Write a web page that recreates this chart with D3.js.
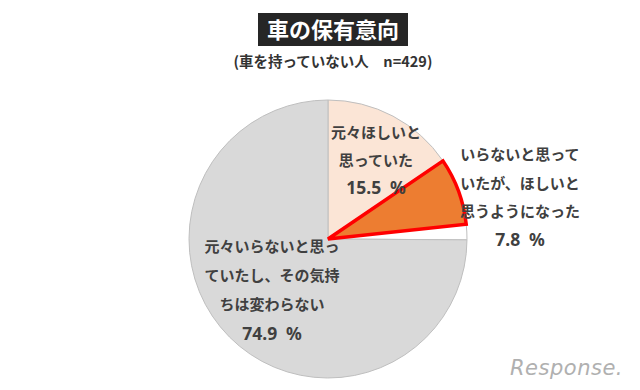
<!DOCTYPE html>
<html><head><meta charset="utf-8">
<script src="https://cdn.jsdelivr.net/npm/d3@7"></script>
<style>body{margin:0;background:#fff}svg{display:block}</style>
</head><body>
<script>
const title = "車の保有意向";
const subtitle = "(車を持っていない人\u3000n=429)";
const categories = ["元々ほしいと思っていた", "いらないと思っていたが、ほしいと思うようになった", "無回答", "元々いらないと思っていたし、その気持ちは変わらない"];
const values = [15.5, 7.8, 1.8, 74.9];
const labelLines = [
  ["元々ほしいと", "思っていた"],
  ["いらないと思って", "いたが、ほしいと", "思うようになった"],
  [],
  ["元々いらないと思っ", "ていたし、その気持", "ちは変わらない"]
];
const valueLabels = ["15.5\u2002%", "7.8\u2002%", "", "74.9\u2002%"];

const W = 640, H = 390;
const svg = d3.select("body").append("svg").attr("width", W).attr("height", H);
const font = "'Noto Sans CJK JP', 'Noto Sans', sans-serif";
const numFont = "'Noto Sans', 'Open Sans', sans-serif";

// title
svg.append("rect").attr("x", 258).attr("y", 13).attr("width", 150).attr("height", 33).attr("fill", "#262626");
svg.append("text").attr("x", 333).attr("y", 37.5).attr("text-anchor", "middle")
  .attr("font-family", font).attr("font-weight", "bold").attr("font-size", 22).attr("fill", "#fff").text(title);
svg.append("text").attr("x", 333).attr("y", 66.5).attr("text-anchor", "middle")
  .attr("font-family", font).attr("font-weight", "bold").attr("font-size", 14.5).attr("fill", "#333").text(subtitle);

// pie
const cx = 328, cy = 239, R = 139;
const fills = ["#FBE5D6", "#ED7D31", "#FFFFFF", "#D9D9D9"];
const pie = d3.pie().sort(null).value(d => d)(values);
const arc = d3.arc().innerRadius(0).outerRadius(R);
const g = svg.append("g").attr("transform", `translate(${cx},${cy})`);
const order = [0, 2, 3, 1];
order.forEach(i => {
  const hl = i === 1;
  g.append("path").attr("d", arc(pie[i])).attr("fill", fills[i])
    .attr("stroke", hl ? "#FF0000" : "#BFBFBF").attr("stroke-width", hl ? 3.5 : 1)
    .attr("stroke-linejoin", "miter");
});

// labels
const labelPos = [[376, 133], [520, 155], null, [272, 247]];
const spacing = [27.5, 28.3, 0, 28.9];
labelLines.forEach((lines, i) => {
  if (!labelPos[i]) return;
  const t = svg.append("text").attr("text-anchor", "middle").attr("font-family", font)
    .attr("font-weight", "bold").attr("font-size", 15).attr("fill", "#404040");
  lines.forEach((ln, j) => {
    t.append("tspan").attr("x", labelPos[i][0]).attr("y", labelPos[i][1] + j * spacing[i])
      .attr("dy", "0.35em").text(ln);
  });
  svg.append("text").attr("text-anchor", "middle").attr("font-family", numFont)
    .attr("font-weight", "bold").attr("font-size", 17.5).attr("fill", "#404040")
    .attr("x", labelPos[i][0]).attr("y", labelPos[i][1] + lines.length * spacing[i])
    .attr("dy", "0.35em").text(valueLabels[i]);
});

// watermark
svg.append("text").attr("x", 623).attr("y", 375).attr("text-anchor", "end")
  .attr("font-family", "'DejaVu Sans', sans-serif").attr("font-style", "italic").attr("font-size", 21).attr("fill", "#B0B0B0")
  .attr("letter-spacing", "0.5").text("Response.");
</script>
</body></html>
